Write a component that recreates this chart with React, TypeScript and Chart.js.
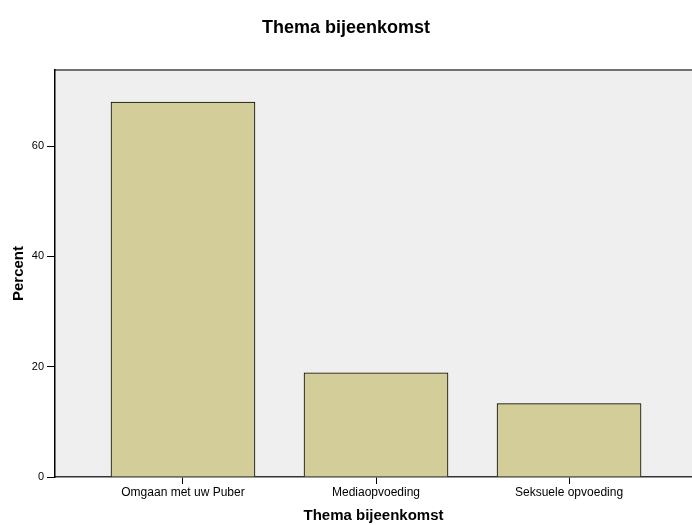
import React, { useEffect, useRef } from "react";
import { Chart, registerables } from "chart.js";

Chart.register(...registerables);

const categories = ["Omgaan met uw Puber", "Mediaopvoeding", "Seksuele opvoeding"];
const percentValues = [68.0, 18.9, 13.3];
const yTickValues = [0, 20, 40, 60];
const chartTitle = "Thema bijeenkomst";
const xAxisTitle = "Thema bijeenkomst";
const yAxisTitle = "Percent";

const FONT = "'Liberation Sans', Arial, sans-serif";

const plotFrame = {
  id: "plotFrame",
  beforeDraw(chart: any) {
    const { ctx, chartArea } = chart;
    ctx.save();
    ctx.fillStyle = "#efefef";
    ctx.fillRect(chartArea.left, chartArea.top, chartArea.right - chartArea.left, chartArea.bottom - chartArea.top);
    ctx.strokeStyle = "#444444";
    ctx.lineWidth = 1.5;
    ctx.beginPath();
    ctx.moveTo(chartArea.left, chartArea.top);
    ctx.lineTo(chartArea.right, chartArea.top);
    ctx.stroke();
    ctx.restore();
  },
};

export default function App() {
  const ref = useRef<HTMLCanvasElement>(null);
  useEffect(() => {
    if (!ref.current) return;
    const chart = new Chart(ref.current, {
      type: "bar",
      data: {
        datasets: [
          {
            data: percentValues.map((v, i) => ({ x: i, y: v })),
            backgroundColor: "#d3ce99",
            borderColor: "#000000",
            borderWidth: 1,
            barThickness: 144,
          },
        ],
      },
      plugins: [plotFrame],
      options: {
        animation: false,
        responsive: false,
        maintainAspectRatio: false,
        layout: { padding: { top: 0, right: 0, bottom: 0, left: 0 } },
        plugins: {
          legend: { display: false },
          tooltip: { enabled: false },
          title: {
            display: true,
            text: chartTitle,
            color: "#000",
            font: { family: FONT, size: 18, weight: "bold" },
            padding: { top: 17, bottom: 31.4 },
          },
        },
        scales: {
          x: {
            type: "linear",
            offset: false,
            min: -0.663,
            max: 2.637,
            afterBuildTicks: (scale: any) => {
              scale.ticks = categories.map((_, i) => ({ value: i }));
            },
            afterFit: (scale: any) => {
              scale.height = 48;
            },
            ticks: {
              callback: (v: any) => categories[v as number] ?? "",
              color: "#000",
              font: { family: FONT, size: 12 },
              padding: 1,
              maxRotation: 0,
              autoSkip: false,
            },
            grid: {
              display: true,
              offset: false,
              drawOnChartArea: false,
              drawTicks: true,
              tickLength: 7,
              color: "#000",
            },
            border: { display: true, color: "#333333", width: 1.5 },
            title: {
              display: true,
              text: xAxisTitle,
              color: "#000",
              font: { family: FONT, size: 15, weight: "bold" },
              padding: { top: 0, bottom: 0 },
            },
          },
          y: {
            min: 0,
            max: 73.8,
            afterBuildTicks: (scale: any) => {
              scale.ticks = yTickValues.map((v) => ({ value: v }));
            },
            afterFit: (scale: any) => {
              scale.width = 55;
            },
            ticks: {
              color: "#000",
              font: { family: FONT, size: 11 },
              padding: 3,
            },
            grid: {
              display: true,
              drawOnChartArea: false,
              drawTicks: true,
              tickLength: 8,
              color: "#000",
            },
            border: { display: true, color: "#000", width: 1.5 },
            title: {
              display: true,
              text: yAxisTitle,
              color: "#000",
              font: { family: FONT, size: 15, weight: "bold" },
              padding: { top: 10, bottom: 4 },
            },
          },
        },
      },
    } as any);
    return () => chart.destroy();
  }, []);
  return (
    <div style={{ position: "fixed", left: 0, top: 0, width: 692, height: 525, background: "#fff" }}>
      <canvas ref={ref} width={692} height={525} style={{ width: 692, height: 525 }} />
    </div>
  );
}
